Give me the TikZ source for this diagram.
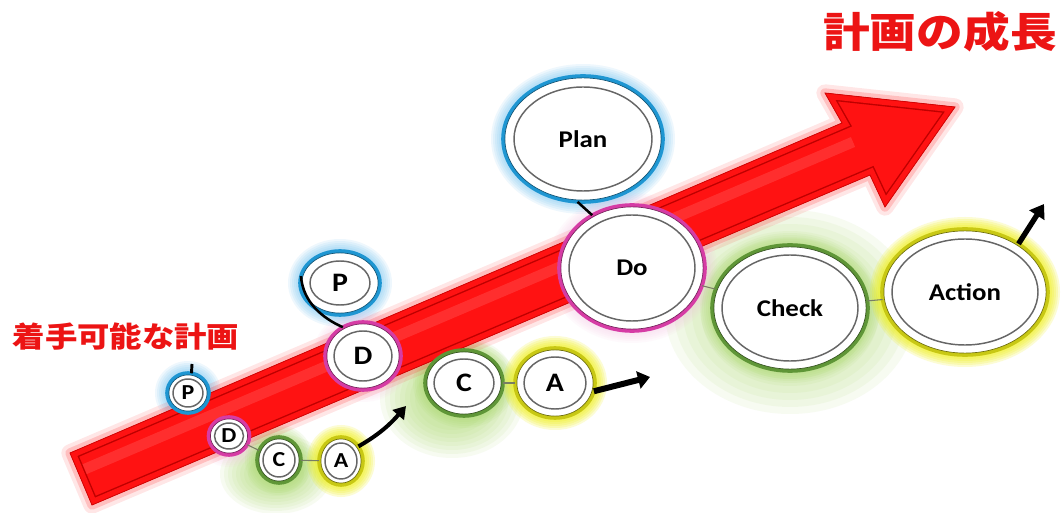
\documentclass[tikz,border=0pt]{standalone}
\usepackage{fontspec}
\newfontfamily\latf[FakeStretch=1.12]{Carlito}
\newfontfamily\jpf[FakeStretch=1.13]{Noto Sans CJK JP}
\usetikzlibrary{shapes.geometric,arrows.meta}
\definecolor{jred}{RGB}{236,20,20}
\definecolor{arrred}{RGB}{255,18,18}
\definecolor{arrdark}{RGB}{190,0,0}
\definecolor{ringblue}{RGB}{30,150,210}
\definecolor{ringmag}{RGB}{214,60,165}
\definecolor{ringgreen}{RGB}{95,150,55}
\definecolor{ringyel}{RGB}{200,200,20}
\definecolor{glowblue}{RGB}{90,185,240}
\definecolor{glowmag}{RGB}{245,190,225}
\definecolor{glowgreen}{RGB}{165,215,100}
\definecolor{glowyel}{RGB}{240,240,0}
\definecolor{linkgray}{RGB}{120,125,100}
\pgfdeclarelayer{glow}
\pgfdeclarelayer{arrowlayer}
\pgfsetlayers{glow,arrowlayer,main}
\tikzset{
  ringbase/.style={ellipse, fill=white, line width=2.7pt, inner sep=0pt, outer sep=0pt, font=\latf\bfseries, text=black},
  ringin/.style={draw=black!60, line width=1.1pt},
  link/.style={draw=linkgray, line width=0.8pt},
  heavy/.style={draw=black, line width=1.9pt},
  jplabel/.style={text=jred, inner sep=0pt},
  haloblue/.style={fill=glowblue, opacity=0.10},
  halomag/.style={fill=glowmag, opacity=0.08},
  halogreen/.style={fill=glowgreen, opacity=0.10},
  haloyel/.style={fill=glowyel, opacity=0.17}
}
\newcommand\pdcaring[9]{%
  \begin{pgfonlayer}{glow}
    \foreach \k in {1,...,6} {\path[#7] (#2,#3) ellipse ({#4+2*\k} and {#5+2*\k});}
  \end{pgfonlayer}
  \node[ringbase, draw=#6, minimum width={1.5pt*#4}, minimum height={1.5pt*#5}] (#1) at (#2,#3) {#8};
  \draw[#6!55!black, line width=0.5pt] (#2,#3) ellipse ({#4-1.9} and {#5-1.9});
  \draw[ringin] (#2,#3) ellipse ({#4-#9} and {#5-#9});
}
\newcommand\bigarrowpath{(70,453) -- (842,123) -- (825,93) -- (955,107) -- (885,207) -- (870,175) -- (92,505) -- cycle}
\newcommand\fsL{\fontsize{18pt}{20pt}\selectfont}
\newcommand\fsM{\fontsize{20pt}{22pt}\selectfont}
\newcommand\fsS{\fontsize{16pt}{18pt}\selectfont}
\begin{document}
\begin{tikzpicture}[x=0.75pt,y=-0.75pt]
\useasboundingbox (0,0) rectangle (1061,513);

% background and soft green halos
\begin{pgfonlayer}{glow}
  \fill[white] (0,0) rectangle (1061,513);
  \foreach \k in {0,...,7} {
    \fill[glowgreen, opacity=0.085] (790,312) ellipse ({125-9*\k} and {102-7*\k});
    \fill[glowgreen, opacity=0.085] (452,398) ellipse ({72-5*\k} and {60-4*\k});
    \fill[glowgreen, opacity=0.085] (276,474) ellipse ({56-4*\k} and {40-3*\k});
  }
\end{pgfonlayer}

% big red arrow
\begin{pgfonlayer}{arrowlayer}
  \draw[arrred, opacity=0.10, line width=13pt, line join=round] \bigarrowpath;
  \draw[arrred, opacity=0.18, line width=7pt, line join=round] \bigarrowpath;
  \fill[arrred] \bigarrowpath;
  \begin{scope}
    \clip \bigarrowpath;
    \draw[white, opacity=0.12, line width=8pt] (78,472) -- (853,142);
    \draw[arrdark, line width=10.5pt, line join=miter] \bigarrowpath;
    \draw[arrred, line width=8.4pt, line join=miter] \bigarrowpath;
  \end{scope}
  \draw[arrdark!70!arrred, line width=0.6pt] \bigarrowpath;
\end{pgfonlayer}

% small PDCA
\pdcaring{Ps}{188}{393}{21}{20}{ringblue}{haloblue}{\fsS P}{6}
\pdcaring{Ds}{229}{436}{20.5}{19}{ringmag}{halomag}{\fsS D}{6}
\pdcaring{Cs}{279}{460}{22}{23}{ringgreen}{halogreen}{\fsS C}{6}
\pdcaring{As}{341}{461}{22}{24}{ringyel}{haloyel}{\fsS A}{6}

% medium PDCA
\pdcaring{Pm}{340}{283}{40}{32}{ringblue}{haloblue}{\fsM P}{10}
\pdcaring{Dm}{363}{356}{38}{34}{ringmag}{halomag}{\fsM D}{9}
\pdcaring{Cm}{464}{383}{39}{33}{ringgreen}{halogreen}{\fsM C}{9}
\pdcaring{Am}{555}{383}{40}{35}{ringyel}{haloyel}{\fsM A}{9}

% large PDCA
\pdcaring{Plan}{583}{139}{80}{63}{ringblue}{haloblue}{\fsL Plan}{11}
\pdcaring{Do}{632}{268}{73}{63}{ringmag}{halomag}{\fsL Do}{10}
\pdcaring{Check}{790}{308}{78}{63}{ringgreen}{halogreen}{\fsL Check}{10}
\pdcaring{Action}{965}{292}{83}{63}{ringyel}{haloyel}{\fsL Action}{10}

% free ends
\coordinate (psTop) at (192,364);
\coordinate (asTip) at (406,406);
\coordinate (amTip) at (650,377);
\coordinate (acTip) at (1044,204);

% connectors
\draw[heavy, line width=2.2pt] (Ps.80) -- (psTop);
\draw[link] (Ds) -- (Cs);
\draw[link] (Cs) -- (As);
\draw[heavy, line width=3pt, -{Triangle[length=9pt,width=11pt]}] (As.40) .. controls (382,433) and (393,421) .. (asTip);

\draw[heavy] (Pm.170) .. controls (303,302) and (322,318) .. (Dm.125);
\draw[link] (Cm) -- (Am);
\draw[heavy, line width=4.5pt, -{Triangle[length=9pt,width=13pt]}] (Am.-12) -- (amTip);

\draw[heavy] (Plan.265) -- (Do.127);
\draw[link] (Do) -- (Check);
\draw[link] (Check) -- (Action);
\draw[heavy, line width=4pt, -{Triangle[length=10pt,width=13pt]}] (Action.42) -- (acTip);

% labels
\node[jplabel, font=\jpf\bfseries\fontsize{21.5pt}{24pt}\selectfont] (lbl) at (126,337) {着手可能な計画};
\node[jplabel, font=\jpf\bfseries\fontsize{31pt}{34pt}\selectfont] (title) at (940,32) {計画の成長};
\end{tikzpicture}
\end{document}
